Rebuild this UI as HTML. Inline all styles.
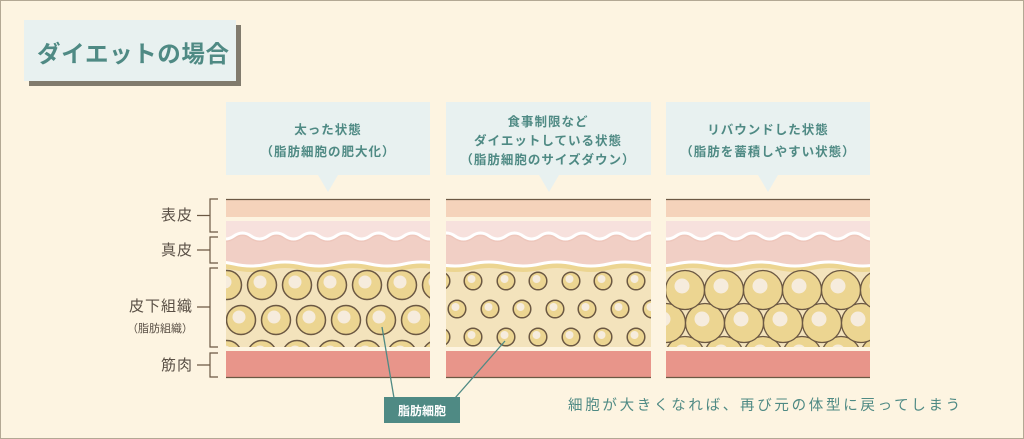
<!DOCTYPE html>
<html><head><meta charset="utf-8"><style>
html,body{margin:0;padding:0;background:#fdf4e1;}
svg{display:block;}
text{font-family:"Liberation Sans","Noto Sans CJK JP",sans-serif;}
</style></head><body>
<svg width="1024" height="439" viewBox="0 0 1024 439" xmlns="http://www.w3.org/2000/svg">
<defs>
<g id="c15"><circle r="14.5" fill="#ecd591" stroke="#6b5843" stroke-width="1.5"/><circle cx="-2" cy="-3" r="6.5" fill="#f6ecdd"/></g>
<g id="c9"><circle r="8.8" fill="#ecd591" stroke="#6b5843" stroke-width="1.5"/><circle cx="-1.5" cy="-2" r="4" fill="#f6ecdd"/></g>
<g id="c19"><circle r="19.5" fill="#ecd591" stroke="#6b5843" stroke-width="1.3"/><circle cx="-3" cy="-4" r="7.5" fill="#f6ecdd"/></g>
<path id="w1" d="M200 236 q8.5 -6 17 0 t17 0 t17 0 t17 0 t17 0 t17 0 t17 0 t17 0 t17 0 t17 0 t17 0 t17 0 t17 0 t17 0 t17 0 t17 0 t17 0 t17 0 t17 0 t17 0 t17 0 t17 0 t17 0 t17 0 t17 0 t17 0 t17 0 t17 0 t17 0 t17 0 t17 0 t17 0 t17 0 t17 0 t17 0 t17 0 t17 0 t17 0 t17 0 t17 0 t17 0 t17 0" fill="none"/>
<path id="w2" d="M200 264 q17 -4 34 0 t34 0 t34 0 t34 0 t34 0 t34 0 t34 0 t34 0 t34 0 t34 0 t34 0 t34 0 t34 0 t34 0 t34 0 t34 0 t34 0 t34 0 t34 0 t34 0 t34 0 t34 0" fill="none"/>
<clipPath id="k1"><rect x="226" y="190" width="204" height="200"/></clipPath>
<clipPath id="k2"><rect x="446" y="190" width="205" height="200"/></clipPath>
<clipPath id="k3"><rect x="666" y="190" width="204" height="200"/></clipPath>
<clipPath id="f1"><rect x="226" y="264" width="204" height="83"/></clipPath>
<clipPath id="f2"><rect x="446" y="264" width="205" height="83"/></clipPath>
<clipPath id="f3"><rect x="666" y="264" width="204" height="83"/></clipPath>
<g id="layers">
  <rect x="0" y="199" width="1024" height="18" fill="#f5d3bb"/>
  <line x1="0" y1="199.5" x2="1024" y2="199.5" stroke="#6b5843" stroke-width="1.2"/>
  <rect x="0" y="221" width="1024" height="44" fill="#f1cfc5"/>
  <rect x="0" y="221" width="1024" height="14" fill="#f7e1dd"/>
  <use href="#w1" stroke="#f7e1dd" stroke-width="4" transform="translate(0,-3)"/>
  <use href="#w1" stroke="#ecbfb4" stroke-width="2" transform="translate(0,2)" opacity="0.5"/>
  <use href="#w1" stroke="#ffffff" stroke-width="3"/>
  <rect x="0" y="265" width="1024" height="82" fill="#f3e3bc"/>
  <use href="#w2" stroke="#ecd591" stroke-width="6" transform="translate(0,3)"/>
  <use href="#w2" stroke="#ffffff" stroke-width="3"/>
  <rect x="0" y="351" width="1024" height="26" fill="#e8958a"/>
  <line x1="0" y1="377.5" x2="1024" y2="377.5" stroke="#6b5843" stroke-width="1.2"/>
</g>
</defs>
<rect x="0.5" y="0.5" width="1023" height="438" fill="#fdf4e1" stroke="#b3a894"/>

<!-- title -->
<rect x="29" y="25" width="212" height="61" fill="#6b6558" opacity="0.85"/>
<rect x="24" y="20" width="212" height="61" fill="#e8f1f0"/>
<text x="37" y="62" font-size="23.5" fill="#4f8a84" letter-spacing="0.6" font-weight="bold">ダイエットの場合</text>

<!-- callouts -->
<g fill="#e8f1f0">
<rect x="226" y="102" width="204" height="73"/><polygon points="318,175 338,175 328,192"/>
<rect x="446" y="102" width="205" height="73"/><polygon points="539,175 559,175 549,192"/>
<rect x="666" y="102" width="204" height="73"/><polygon points="758,175 778,175 768,192"/>
</g>
<g font-size="12.5" fill="#4f8a84" font-weight="bold" text-anchor="middle" letter-spacing="1">
<text x="328" y="134">太った状態</text>
<text x="328" y="156">（脂肪細胞の肥大化）</text>
<text x="548" y="126">食事制限など</text>
<text x="548" y="145">ダイエットしている状態</text>
<text x="548" y="164">（脂肪細胞のサイズダウン）</text>
<text x="768" y="134">リバウンドした状態</text>
<text x="768" y="156">（脂肪を蓄積しやすい状態）</text>
</g>

<!-- panels -->
<g clip-path="url(#k1)"><use href="#layers"/></g>
<g clip-path="url(#k2)"><use href="#layers"/></g>
<g clip-path="url(#k3)"><use href="#layers"/></g>

<g clip-path="url(#f1)">
<use href="#c15" x="227" y="285"/><use href="#c15" x="262" y="285"/><use href="#c15" x="297" y="285"/><use href="#c15" x="332" y="285"/><use href="#c15" x="367" y="285"/><use href="#c15" x="402" y="285"/><use href="#c15" x="437" y="285"/>
<use href="#c15" x="241" y="320"/><use href="#c15" x="276" y="320"/><use href="#c15" x="311" y="320"/><use href="#c15" x="346" y="320"/><use href="#c15" x="381" y="320"/><use href="#c15" x="416" y="320"/>
<use href="#c15" x="227" y="355"/><use href="#c15" x="262" y="355"/><use href="#c15" x="297" y="355"/><use href="#c15" x="332" y="355"/><use href="#c15" x="367" y="355"/><use href="#c15" x="402" y="355"/><use href="#c15" x="437" y="355"/>
</g>
<g clip-path="url(#f2)">
<use href="#c9" x="441" y="281"/><use href="#c9" x="473" y="281"/><use href="#c9" x="506" y="281"/><use href="#c9" x="538" y="281"/><use href="#c9" x="571" y="281"/><use href="#c9" x="603" y="281"/><use href="#c9" x="636" y="281"/>
<use href="#c9" x="457" y="309"/><use href="#c9" x="490" y="309"/><use href="#c9" x="522" y="309"/><use href="#c9" x="555" y="309"/><use href="#c9" x="587" y="309"/><use href="#c9" x="620" y="309"/><use href="#c9" x="652" y="309"/>
<use href="#c9" x="441" y="337"/><use href="#c9" x="473" y="337"/><use href="#c9" x="506" y="337"/><use href="#c9" x="538" y="337"/><use href="#c9" x="571" y="337"/><use href="#c9" x="603" y="337"/><use href="#c9" x="636" y="337"/>
</g>
<g clip-path="url(#f3)">
<use href="#c19" x="685" y="356"/><use href="#c19" x="724" y="356"/><use href="#c19" x="763" y="356"/><use href="#c19" x="802" y="356"/><use href="#c19" x="841" y="356"/><use href="#c19" x="880" y="356"/>
<use href="#c19" x="666" y="323"/><use href="#c19" x="705" y="323"/><use href="#c19" x="744" y="323"/><use href="#c19" x="783" y="323"/><use href="#c19" x="822" y="323"/><use href="#c19" x="861" y="323"/>
<use href="#c19" x="685" y="290"/><use href="#c19" x="724" y="290"/><use href="#c19" x="763" y="290"/><use href="#c19" x="802" y="290"/><use href="#c19" x="841" y="290"/><use href="#c19" x="880" y="290"/>
</g>

<!-- brackets -->
<g stroke="#6b5843" stroke-width="1.2" fill="none">
<path d="M218 199 H210 V232 H218 M197 215.5 H210"/>
<path d="M218 237 H210 V263 H218 M197 250 H210"/>
<path d="M218 268 H210 V347 H218 M197 307 H210"/>
<path d="M218 353 H210 V377 H218 M197 365 H210"/>
</g>
<g font-size="15" fill="#5a5046" text-anchor="end" letter-spacing="1">
<text x="193" y="220">表皮</text>
<text x="193" y="255">真皮</text>
<text x="193" y="311">皮下組織</text>
<text x="193" y="370">筋肉</text>
</g>
<text x="193" y="332" font-size="11" fill="#5a5046" text-anchor="end">（脂肪組織）</text>

<!-- pointer lines and label -->
<g stroke="#4f8a84" stroke-width="1.3">
<line x1="382" y1="327" x2="394" y2="398"/>
<line x1="505" y1="341" x2="455" y2="398"/>
</g>
<rect x="384" y="397" width="76" height="26" fill="#4f8a84"/>
<text x="422" y="415" font-size="12" fill="#ffffff" font-weight="bold" text-anchor="middle">脂肪細胞</text>

<text x="568" y="410" font-size="14.5" fill="#4f8a84" letter-spacing="2.7">細胞が大きくなれば、再び元の体型に戻ってしまう</text>
</svg>
</body></html>
